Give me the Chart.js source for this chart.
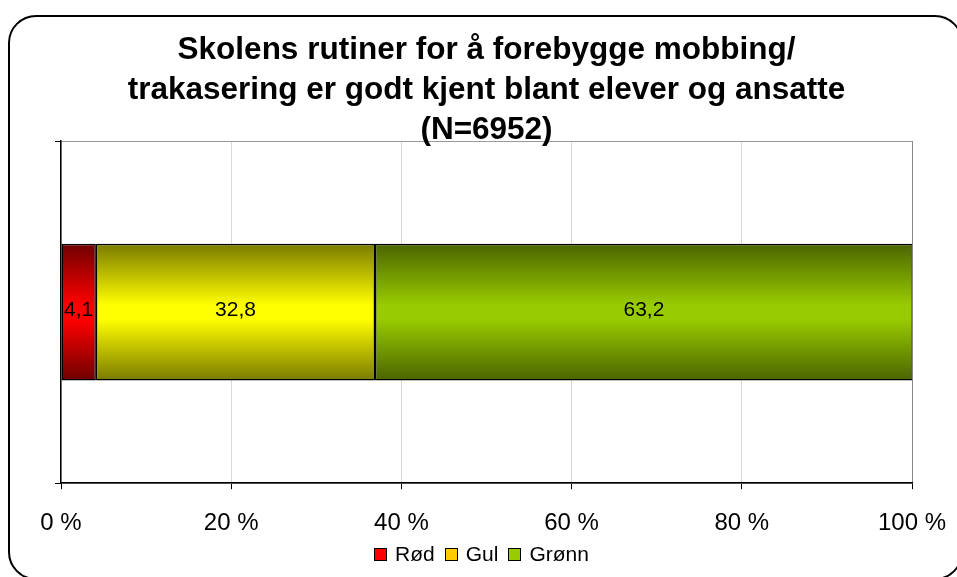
<!DOCTYPE html>
<html>
<head>
<meta charset="utf-8">
<script src="https://cdn.jsdelivr.net/npm/chart.js@4"></script>
<style>
  html, body { margin: 0; padding: 0; background: #fff; }
  #wrap { position: relative; width: 957px; height: 577px; overflow: hidden; font-family: "Liberation Sans", Arial, sans-serif; }
  #frame {
    position: absolute; left: 8px; top: 15px; width: 951px; height: 561px;
    border: 2px solid #000; border-radius: 28px;
  }
  #c { position: absolute; left: 0; top: 0; }
  #legend {
    position: absolute; left: 0; width: 963px; top: 542px; height: 24px;
    display: flex; justify-content: center; align-items: center;
    font-size: 21px; color: #000; line-height: 24px;
  }
  #legend .item { display: flex; align-items: center; margin: 0 5px; }
  #legend .box { width: 11px; height: 11px; border: 1px solid #000; margin-right: 8px; }
</style>
</head>
<body>
<div id="wrap">
  <div id="frame"></div>
  <canvas id="c" width="957" height="577"></canvas>
  <div id="legend"></div>
</div>
<script>
const titleLines = [
  "Skolens rutiner for å forebygge mobbing/",
  "trakasering er godt kjent blant elever og ansatte",
  "(N=6952)",
];
const categories = [""];
const seriesNames = ["Rød", "Gul", "Grønn"];
const rodValues = [4.1];
const gulValues = [32.8];
const gronnValues = [63.2];
const xTicks = [0, 20, 40, 60, 80, 100];

// dark edge / bright middle, like the old office gradient fill
const shades = [
  ["#6e0000", "#ff0000"],
  ["#7a7a00", "#ffff00"],
  ["#4a6400", "#99cc00"],
];
const legendColors = ["#ff0000", "#ffcc00", "#99cc00"];

const BAR_PCT = 0.4;
const FONT = "'Liberation Sans', Arial, sans-serif";

function barFill(i) {
  return (ctx) => {
    const chart = ctx.chart;
    const area = chart.chartArea;
    if (!area) return shades[i][1];
    const cy = chart.scales.y.getPixelForValue(0);
    const half = (area.bottom - area.top) * BAR_PCT / 2;
    const g = chart.ctx.createLinearGradient(0, cy - half, 0, cy + half);
    g.addColorStop(0, shades[i][0]);
    g.addColorStop(0.45, shades[i][1]);
    g.addColorStop(0.55, shades[i][1]);
    g.addColorStop(1, shades[i][0]);
    return g;
  };
}

const fmt = (v) => v.toFixed(1).replace(".", ",");

const barLabels = {
  id: "barLabels",
  afterDatasetsDraw(chart) {
    const c = chart.ctx;
    c.save();
    c.font = "21px " + FONT;
    c.fillStyle = "#000";
    c.textAlign = "center";
    c.textBaseline = "middle";
    chart.data.datasets.forEach((ds, di) => {
      chart.getDatasetMeta(di).data.forEach((el, j) => {
        c.fillText(fmt(ds.data[j]), (el.x + el.base) / 2, el.y - 2);
      });
    });
    c.restore();
  },
};

const data = [rodValues, gulValues, gronnValues];

new Chart(document.getElementById("c"), {
  type: "bar",
  data: {
    labels: categories,
    datasets: seriesNames.map((name, i) => ({
      label: name,
      data: data[i],
      backgroundColor: barFill(i),
      borderColor: "#000",
      borderWidth: 1.5,
      borderSkipped: false,
      barPercentage: BAR_PCT,
      categoryPercentage: 1,
    })),
  },
  options: {
    indexAxis: "y",
    responsive: false,
    animation: false,
    layout: { padding: { left: 55, right: 45, top: 0, bottom: 19 } },
    plugins: {
      title: {
        display: true,
        fullSize: false,
        text: titleLines,
        color: "#000",
        font: { family: FONT, size: 31.5, weight: "bold", lineHeight: 40 / 31.5 },
        padding: { top: 30, bottom: -9 },
      },
      legend: { display: false },
      tooltip: { enabled: false },
    },
    scales: {
      x: {
        stacked: true,
        min: 0,
        max: 100,
        afterBuildTicks: (axis) => { axis.ticks = xTicks.map((v) => ({ value: v })); },
        // the "100 %" label may hang past the plot, keep the plot edge fixed
        afterFit: (axis) => { axis.paddingLeft = 0; axis.paddingRight = 0; },
        ticks: {
          color: "#000",
          padding: 20,
          font: { family: FONT, size: 24 },
          callback: (v) => v + " %",
        },
        grid: {
          color: (ctx) => (ctx.tick && ctx.tick.value === 100 ? "#888" : "#d9d9d9"),
          tickColor: "#000",
          tickLength: 6,
        },
        border: { color: "#000", width: 1.5 },
      },
      y: {
        stacked: true,
        offset: true,
        ticks: { display: false },
        grid: {
          offset: true,
          color: "#999",
          tickColor: "#000",
          tickLength: 6,
        },
        border: { color: "#000", width: 1.5 },
      },
    },
  },
  plugins: [barLabels],
});

// legend as plain html, same order as the datasets
const legendEl = document.getElementById("legend");
legendEl.innerHTML = seriesNames
  .map((n, i) => `<span class="item"><span class="box" style="background:${legendColors[i]}"></span>${n}</span>`)
  .join("");
</script>
</body>
</html>
